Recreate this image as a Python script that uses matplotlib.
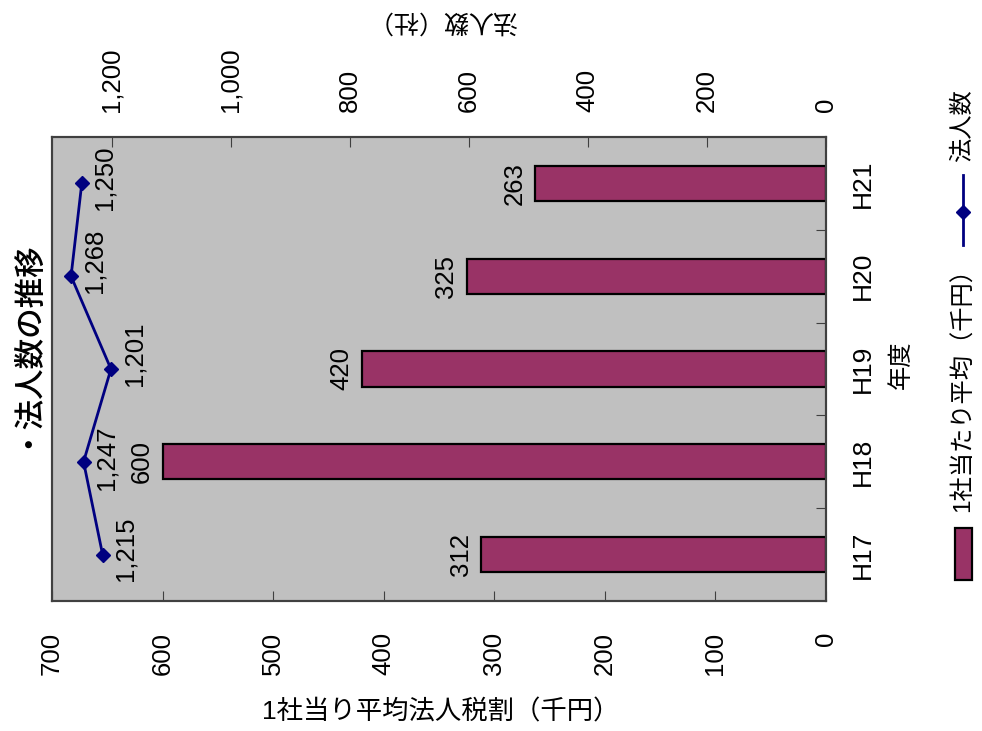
import matplotlib
matplotlib.use("Agg")
import matplotlib.pyplot as plt
from matplotlib.patches import Rectangle
from matplotlib.lines import Line2D
from matplotlib.ticker import FuncFormatter

plt.rcParams['font.family'] = ['Liberation Sans', 'Noto Sans CJK JP']

# data
years = ['H17', 'H18', 'H19', 'H20', 'H21']
avg_tax = [312, 600, 420, 325, 263]          # 1社当り平均法人税割(千円)
corp_count = [1215, 1247, 1201, 1268, 1250]  # 法人数(社)
count_label_dy = [4, 3, 11, 11, 4]           # label nudge (pt)

bar_color = '#993366'
line_color = '#000080'
W, H = 982, 731

fig = plt.figure(figsize=(W / 100, H / 100), dpi=100)
ax = fig.add_axes([52 / W, 1 - 601 / H, 774 / W, 464 / H])
ax.set_facecolor('#C0C0C0')

ypos = list(range(len(years)))
ax.barh(ypos, avg_tax, height=0.38, color=bar_color, edgecolor='black', linewidth=1.6, zorder=2)
ax.set_xlim(700, 0)
ax.set_ylim(-0.5, len(years) - 0.5)
ax.set_xticks(range(0, 701, 100))
ax.tick_params(axis='x', direction='in', length=7, pad=22, labelsize=18.5, labelrotation=90, color='#404040')

# category axis on the right
ax.yaxis.tick_right()
ax.set_yticks([i + 0.5 for i in ypos[:-1]])
ax.set_yticklabels([])
ax.set_yticks(ypos, minor=True)
ax.set_yticklabels(years, minor=True, rotation=90, va='center')
ax.tick_params(axis='y', which='major', direction='in', length=7, color='#404040')
ax.tick_params(axis='y', which='minor', length=0, pad=18, labelsize=19)

for v, y in zip(avg_tax, ypos):
    ax.annotate(f'{v}', (v, y), xytext=(-6, 0), textcoords='offset points',
                ha='right', va='center', rotation=90, fontsize=18.5)

# line on top axis
ax2 = ax.twiny()
ax2.plot(corp_count, ypos, color=line_color, lw=2, marker='D', ms=7.5, zorder=3)
ax2.set_xlim(1300, 0)
ax2.set_xticks(range(0, 1201, 200))
ax2.xaxis.set_major_formatter(FuncFormatter(lambda v, p: f'{int(v):,}'))
ax2.tick_params(axis='x', direction='in', length=7, pad=18, labelsize=18.5, labelrotation=90, color='#404040')
for c, y, dy in zip(corp_count, ypos, count_label_dy):
    ax2.annotate(f'{c:,}', (c, y), xytext=(8, dy), textcoords='offset points',
                 ha='left', va='center', rotation=90, fontsize=18.5)

for a in (ax, ax2):
    for s in a.spines.values():
        s.set_color('#404040')
        s.set_linewidth(1.5)

# axis titles
fig.text(441 / W, 1 - 712 / H, '1社当り平均法人税割（千円）', ha='center', va='center', fontsize=19)
fig.text(442 / W, 1 - 20 / H, '法人数（社）', ha='center', va='center', fontsize=18, rotation=180)
fig.text(901 / W, 1 - 365 / H, '年度', ha='center', va='center', fontsize=17.5, rotation=90)

# title
fig.text(21 / W, 1 - 341 / H, '・法人数の推移', ha='center', va='center', fontsize=22,
         fontweight='medium', rotation=90)

# legend (drawn by hand, rotated)
fig.patches.append(Rectangle((955 / W, 1 - 580 / H), 17 / W, 52 / H, transform=fig.transFigure,
                             facecolor=bar_color, edgecolor='black', linewidth=1.6))
fig.text(963 / W, 1 - 384 / H, '1社当たり平均（千円）', ha='center', va='center', fontsize=17.5, rotation=90)
fig.lines.append(Line2D([963 / W, 963 / W], [1 - 245 / H, 1 - 175 / H], transform=fig.transFigure,
                        color=line_color, lw=2))
fig.lines.append(Line2D([963 / W], [1 - 212 / H], transform=fig.transFigure,
                        color=line_color, marker='D', ms=7.5))
fig.text(963 / W, 1 - 126 / H, '法人数', ha='center', va='center', fontsize=17.5, rotation=90)

fig.savefig('out.png', dpi=100)
